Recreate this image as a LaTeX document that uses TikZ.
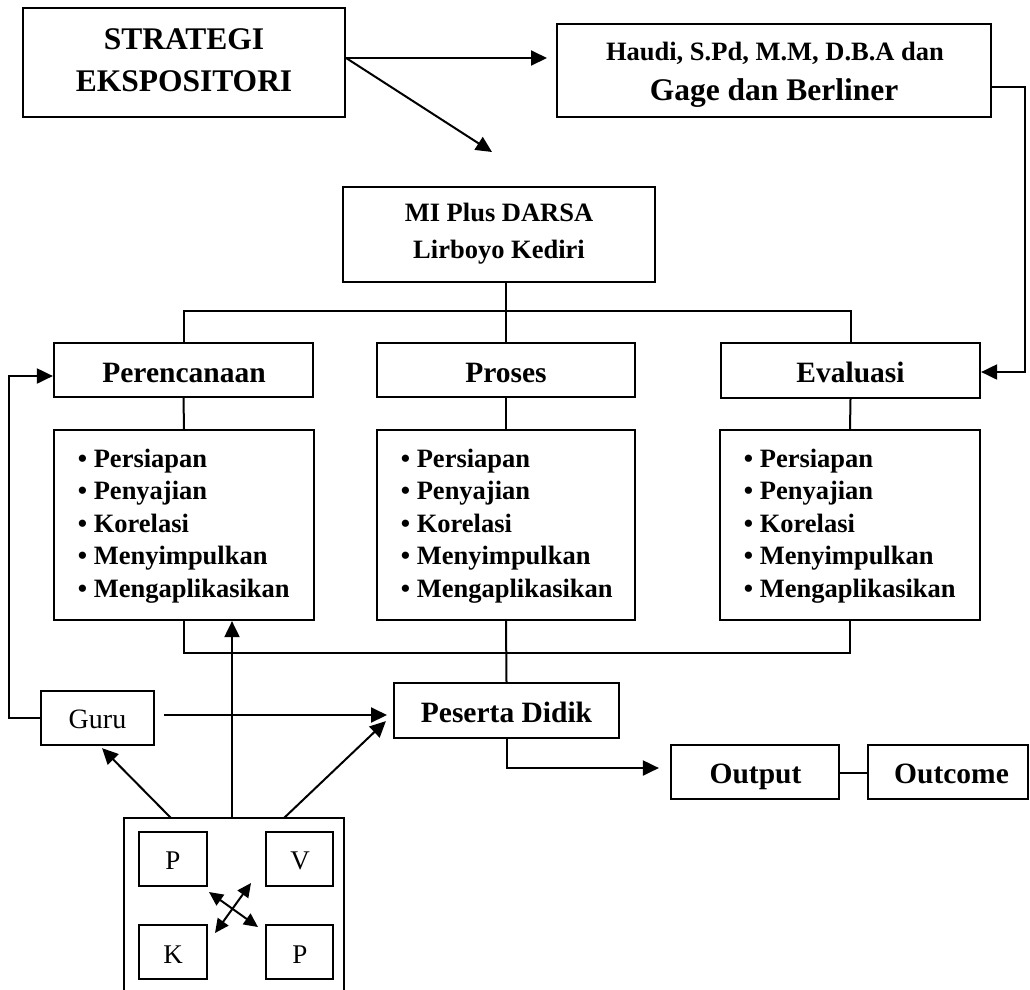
\documentclass[tikz,border=0pt]{standalone}
\usepackage{fontspec}
\setmainfont{Liberation Serif}
\usetikzlibrary{arrows.meta,calc}
\begin{document}
\begin{tikzpicture}[x=1pt,y=-1pt,line width=2pt,
  box/.style={draw,line width=2.2pt,inner sep=0pt},
  lbl/.style={anchor=base,inner sep=0pt},
  item/.style={anchor=base west,inner sep=0pt,font=\bfseries\fontsize{26.5}{30}\selectfont},
  arr/.style={-{Triangle[length=16pt,width=15pt]}},
  darr/.style={{Triangle[length=14pt,width=13pt]}-{Triangle[length=14pt,width=13pt]}},
  bigb/.style={font=\bfseries\fontsize{31.5}{36}\selectfont},
  medb/.style={font=\bfseries\fontsize{26.5}{30}\selectfont},
  headb/.style={font=\bfseries\fontsize{29.5}{34}\selectfont},
  plain/.style={font=\fontsize{28}{32}\selectfont}
]
\useasboundingbox (0,0) rectangle (1030,989);

% top boxes
\node[box,minimum width=322pt,minimum height=109pt] (strat) at (184,62.5) {};
\node[lbl,bigb] (strat1) at (184,49) {STRATEGI};
\node[lbl,bigb] (strat2) at (184,91) {EKSPOSITORI};

\node[box,minimum width=434pt,minimum height=93pt] (haudi) at (774,70.5) {};
\node[lbl,medb] (haudi1) at (775,60) {Haudi, S.Pd, M.M, D.B.A dan};
\node[lbl,bigb] (haudi2) at (774,100) {Gage dan Berliner};

\node[box,minimum width=312pt,minimum height=95pt] (mi) at (499,234.5) {};
\node[lbl,font=\bfseries\fontsize{26.5}{30}\selectfont] (mi1) at (499,221) {MI Plus DARSA};
\node[lbl,font=\bfseries\fontsize{26.5}{30}\selectfont] (mi2) at (499,258) {Lirboyo Kediri};

% headers
\node[box,minimum width=259pt,minimum height=54pt] (peren) at (183.5,370) {};
\node[lbl,headb] (perent) at (184,382) {Perencanaan};
\node[box,minimum width=258pt,minimum height=54pt] (proses) at (506,370) {};
\node[lbl,headb] (prosest) at (506,382) {Proses};
\node[box,minimum width=259pt,minimum height=55pt] (eval) at (850.5,370.5) {};
\node[lbl,headb] (evalt) at (850.5,382) {Evaluasi};

% lists
\node[box,minimum width=260pt,minimum height=190pt] (perenL) at (184,525) {};
\node[box,minimum width=258pt,minimum height=190pt] (prosesL) at (506,525) {};
\node[box,minimum width=260pt,minimum height=190pt] (evalL) at (850,525) {};
\foreach \b in {perenL,prosesL,evalL} {
  \foreach \t [count=\i from 0] in {Persiapan,Penyajian,Korelasi,Menyimpulkan,Mengaplikasikan}
    \node[item] (\b-\i) at ($(\b.west)+(24,{-58+32.5*\i})$) {\textbullet\ \t};
}

% lower boxes
\node[box,minimum width=225pt,minimum height=55pt] (pes) at (506.5,710.5) {};
\node[lbl,headb] (pest) at (506.5,722) {Peserta Didik};
\node[box,minimum width=168pt,minimum height=54pt] (out) at (755,772) {};
\node[lbl,headb] (outt) at (755.5,783) {Output};
\node[box,minimum width=160pt,minimum height=54pt] (outc) at (948,772) {};
\node[lbl,headb] (outct) at (951.5,783) {Outcome};
\node[box,minimum width=113pt,minimum height=54pt] (guru) at (97.5,718) {};
\node[lbl,plain] (gurut) at (97.5,728) {Guru};

% learning styles box (open at the bottom)
\node[minimum width=218pt,minimum height=200pt,inner sep=0pt,anchor=north] (gaya) at (234,818) {};
\draw (gaya.south west) -- (gaya.north west) -- (gaya.north east) -- (gaya.south east);
\node[box,minimum width=68pt,minimum height=54pt] (p1) at (173,859) {};
\node[lbl,plain,font=\fontsize{27}{30}\selectfont] (p1t) at (173,869) {P};
\node[box,minimum width=67pt,minimum height=54pt] (v) at (299.5,859) {};
\node[lbl,plain,font=\fontsize{27}{30}\selectfont] (vt) at (300,869) {V};
\node[box,minimum width=68pt,minimum height=54pt] (k) at (173,952) {};
\node[lbl,plain,font=\fontsize{27}{30}\selectfont] (kt) at (173,963) {K};
\node[box,minimum width=67pt,minimum height=54pt] (p2) at (299.5,952) {};
\node[lbl,plain,font=\fontsize{27}{30}\selectfont] (p2t) at (300,963) {P};

% coordinates for free ends
\coordinate (sa) at ([yshift=4.5pt]strat.east);
\coordinate (hin) at (547,58);
\coordinate (min) at (492,152);
\coordinate (rt) at (1025,87);
\coordinate (g1) at ([xshift=9pt,yshift=3pt]guru.east);
\coordinate (g2) at (387,715);
\coordinate (da1) at (209,892);
\coordinate (da2) at (258,927);
\coordinate (db1) at (251,883);
\coordinate (db2) at (215,933);

% connectors
\draw[arr] (sa) -- (hin);
\draw[arr] (sa) -- (min);
\draw[arr] ([yshift=-16.5pt]haudi.east) -- (rt) |- ([yshift=-1.5pt]eval.east);
\draw (proses.north |- mi.south) -- (proses.north);
\draw (peren.north) -- ++(0,-31) -| (eval.north);
\draw (peren.south) -- (perenL.north);
\draw (proses.south) -- (prosesL.north);
\draw (eval.south) -- (evalL.north);
\draw (perenL.south) -- ++(0,32) -| (evalL.south);
\draw (prosesL.south) -- (pes.north);
\draw[arr] (pes.south) |- ([xshift=-11pt,yshift=4pt]out.west);
\draw ([yshift=-1pt]out.east) -- ([yshift=-1pt]outc.west);
\draw[arr] (guru.west) -- ++(-31,0) |- ([yshift=-6pt]peren.west);
\draw[arr] (g1) -- (g2);
\draw[arr] ([xshift=-2pt]gaya.north) -- ([xshift=-2pt]gaya.north |- perenL.south);
\draw[arr] ([xshift=-63pt]gaya.north) -- ([xshift=4.5pt,yshift=-2pt]guru.south);
\draw[arr] ([xshift=50pt]gaya.north) -- ([xshift=-7pt,yshift=18pt]pes.south west);
\draw[darr] (da1) -- (da2);
\draw[darr] (db1) -- (db2);
\end{tikzpicture}
\end{document}
